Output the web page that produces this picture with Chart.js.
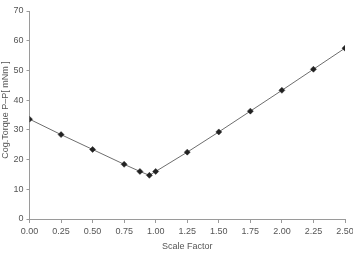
<!DOCTYPE html>
<html>
<head>
<meta charset="utf-8">
<script src="https://cdn.jsdelivr.net/npm/chart.js@4/dist/chart.umd.min.js"></script>
<style>
html,body{margin:0;padding:0;background:#fff;}
#wrap{width:353px;height:253px;}
</style>
</head>
<body>
<div id="wrap"><canvas id="c" width="353" height="253"></canvas></div>
<script>
const scaleFactors = [0.00, 0.25, 0.50, 0.75, 0.875, 0.95, 1.00, 1.25, 1.50, 1.75, 2.00, 2.25, 2.50];
const cogTorque   = [33.6, 28.4, 23.4, 18.4, 16.0, 14.7, 16.0, 22.5, 29.3, 36.3, 43.3, 50.4, 57.5];
const xTitle = 'Scale Factor';
const yTitle = '    Cog.Torque P–P[ mNm ]';

const points = scaleFactors.map((x, i) => ({x: x, y: cogTorque[i]}));
const tickFont = {family: 'Liberation Sans, Arial, sans-serif', size: 9};
const axisColor = '#9a9a9a';
const textColor = '#555';

new Chart(document.getElementById('c'), {
  type: 'scatter',
  data: {
    datasets: [{
      data: points,
      showLine: true,
      borderColor: '#6e6e6e',
      borderWidth: 1,
      pointStyle: 'rectRot',
      pointRadius: 3,
      pointBackgroundColor: '#222',
      pointBorderColor: '#222',
      pointBorderWidth: 0.5,
      tension: 0
    }]
  },
  options: {
    responsive: false,
    animation: false,
    devicePixelRatio: 1,
    layout: {padding: {left: 0, right: 8, top: 11, bottom: 1}},
    plugins: {legend: {display: false}, tooltip: {enabled: false}},
    scales: {
      x: {
        type: 'linear',
        min: 0, max: 2.5,
        ticks: {
          stepSize: 0.25,
          color: textColor,
          font: tickFont,
          padding: 3,
          maxRotation: 0,
          callback: v => Number(v).toFixed(2)
        },
        grid: {drawOnChartArea: false, drawTicks: true, tickLength: 4, color: axisColor},
        border: {color: axisColor, width: 1},
        title: {display: true, text: xTitle, color: textColor, font: tickFont, padding: {top: 2, bottom: 0}},
        afterFit: s => { s.height = 33; s.paddingLeft = 0; s.paddingRight = 0; }
      },
      y: {
        min: 0, max: 70,
        ticks: {stepSize: 10, color: textColor, font: tickFont, padding: 3},
        grid: {drawOnChartArea: false, drawTicks: true, tickLength: 3, color: axisColor},
        border: {color: axisColor, width: 1},
        title: {display: true, text: yTitle, color: textColor, font: tickFont, padding: {top: 0, bottom: 1}},
        afterFit: s => { s.width = 29.5; s.paddingTop = 0; s.paddingBottom = 0; }
      }
    }
  }
});
</script>
</body>
</html>
